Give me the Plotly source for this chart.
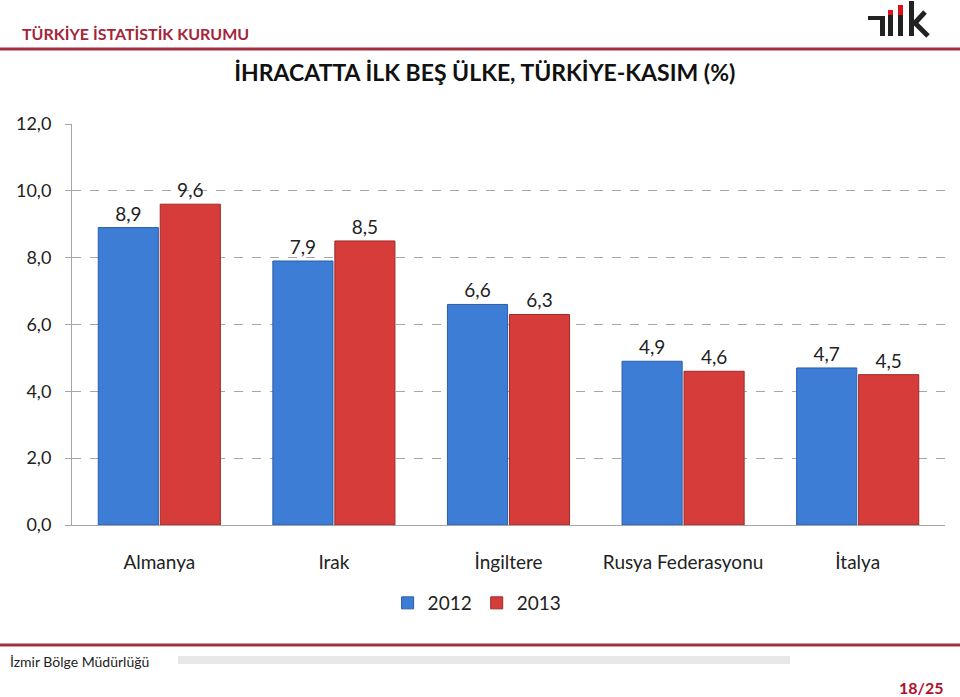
import plotly.graph_objects as go

categories = ["Almanya", "Irak", "İngiltere", "Rusya Federasyonu", "İtalya"]
values_2012 = [8.9, 7.9, 6.6, 4.9, 4.7]
values_2013 = [9.6, 8.5, 6.3, 4.6, 4.5]
series_names = ["2012", "2013"]
y_ticks = [0, 2, 4, 6, 8, 10, 12]

FONT = "Lato"

def lbl(v):
    return f"{v:.1f}".replace(".", ",")

fig = go.Figure()
fig.add_trace(go.Bar(
    name=series_names[0], x=categories, y=values_2012,
    marker=dict(color="#3d7dd6", line=dict(color="#2a5ea8", width=1)),
    text=[lbl(v) for v in values_2012],
    textposition="outside", cliponaxis=False,
    textfont=dict(size=19, color="#222222", family=FONT),
))
fig.add_trace(go.Bar(
    name=series_names[1], x=categories, y=values_2013,
    marker=dict(color="#d63d3a", line=dict(color="#9e2a27", width=1)),
    text=[lbl(v) for v in values_2013],
    textposition="outside", cliponaxis=False,
    textfont=dict(size=19, color="#222222", family=FONT),
))

fig.update_layout(
    width=960, height=697,
    margin=dict(l=72, r=15, t=124, b=172, autoexpand=False),
    paper_bgcolor="white", plot_bgcolor="white",
    barmode="group", bargap=0.29, bargroupgap=0.03,
    separators=",.",
    font=dict(family=FONT, color="#222222"),
    showlegend=True,
    legend=dict(orientation="h", xref="container", yref="container",
                x=0.497, xanchor="center", y=1 - 603 / 697, yanchor="middle",
                font=dict(size=19, family=FONT), itemwidth=30,
                traceorder="normal"),
    title=dict(text="<b>İHRACATTA İLK BEŞ ÜLKE, TÜRKİYE-KASIM (%)</b>",
               x=0.505, xanchor="center", xref="container",
               y=1 - 73 / 697, yref="container", yanchor="middle",
               font=dict(size=23, family=FONT, color="#111111")),
    yaxis=dict(range=[0, 12], tickvals=y_ticks, tickformat=".1f",
               showgrid=True, gridcolor="#a6a6a6", griddash="dash", gridwidth=1,
               showline=True, linecolor="#a6a6a6", linewidth=1,
               ticks="outside", ticklen=6, tickcolor="#a6a6a6",
               ticklabelstandoff=10, zeroline=False,
               tickfont=dict(size=18, family=FONT, color="#222222")),
    xaxis=dict(showline=True, linecolor="#a6a6a6", linewidth=1,
               ticks="", ticklabelstandoff=20,
               tickfont=dict(size=19, family=FONT, color="#222222")),
)

def px_x(p):
    return (p - 72) / 873

def px_y(p):
    return (525 - p) / 401

# Header and footer texts
fig.add_annotation(text="<b>TÜRKİYE İSTATİSTİK KURUMU</b>", xref="paper", yref="paper",
                   x=px_x(20), y=px_y(33), xanchor="left", yanchor="middle",
                   showarrow=False, font=dict(size=16, family=FONT, color="#a3263a"))
fig.add_annotation(text="İzmir Bölge Müdürlüğü", xref="paper", yref="paper",
                   x=px_x(8), y=px_y(661), xanchor="left", yanchor="middle",
                   showarrow=False, font=dict(size=14, family=FONT, color="#222222"))
fig.add_annotation(text="<b>18/25</b>", xref="paper", yref="paper",
                   x=px_x(946), y=px_y(687), xanchor="right", yanchor="middle",
                   showarrow=False, font=dict(size=16, family=FONT, color="#b0102a"))

shapes = [
    dict(type="line", xref="paper", yref="paper", x0=px_x(0), x1=px_x(960),
         y0=px_y(49), y1=px_y(49), line=dict(color="#a33040", width=3)),
    dict(type="line", xref="paper", yref="paper", x0=px_x(0), x1=px_x(960),
         y0=px_y(645), y1=px_y(645), line=dict(color="#a33040", width=3)),
    dict(type="line", xref="paper", yref="paper", x0=px_x(178), x1=px_x(790),
         y0=px_y(660), y1=px_y(660), line=dict(color="#e8e8e8", width=8)),
    # logo
    dict(type="rect", xref="paper", yref="paper", x0=px_x(868), x1=px_x(884),
         y0=px_y(20), y1=px_y(16), fillcolor="#222222", line_width=0),
    dict(type="rect", xref="paper", yref="paper", x0=px_x(880), x1=px_x(885),
         y0=px_y(36), y1=px_y(16), fillcolor="#222222", line_width=0),
    dict(type="rect", xref="paper", yref="paper", x0=px_x(888), x1=px_x(893),
         y0=px_y(36), y1=px_y(10), fillcolor="#222222", line_width=0),
    dict(type="rect", xref="paper", yref="paper", x0=px_x(898), x1=px_x(903),
         y0=px_y(36), y1=px_y(8), fillcolor="#222222", line_width=0),
    dict(type="rect", xref="paper", yref="paper", x0=px_x(888), x1=px_x(893),
         y0=px_y(15), y1=px_y(10), fillcolor="#e0101a", line_width=0),
    dict(type="rect", xref="paper", yref="paper", x0=px_x(898), x1=px_x(903),
         y0=px_y(15), y1=px_y(5), fillcolor="#e0101a", line_width=0),
    dict(type="rect", xref="paper", yref="paper", x0=px_x(909), x1=px_x(914),
         y0=px_y(36), y1=px_y(1), fillcolor="#222222", line_width=0),
    dict(type="line", xref="paper", yref="paper", x0=px_x(914), x1=px_x(925),
         y0=px_y(24), y1=px_y(12), line=dict(color="#222222", width=5)),
    dict(type="line", xref="paper", yref="paper", x0=px_x(914), x1=px_x(928),
         y0=px_y(22), y1=px_y(36), line=dict(color="#222222", width=5)),
]
fig.update_layout(shapes=shapes)

fig.write_html("out.html", config={"displayModeBar": False},
               post_script="document.body.style.margin='0';document.body.style.overflow='hidden';")
